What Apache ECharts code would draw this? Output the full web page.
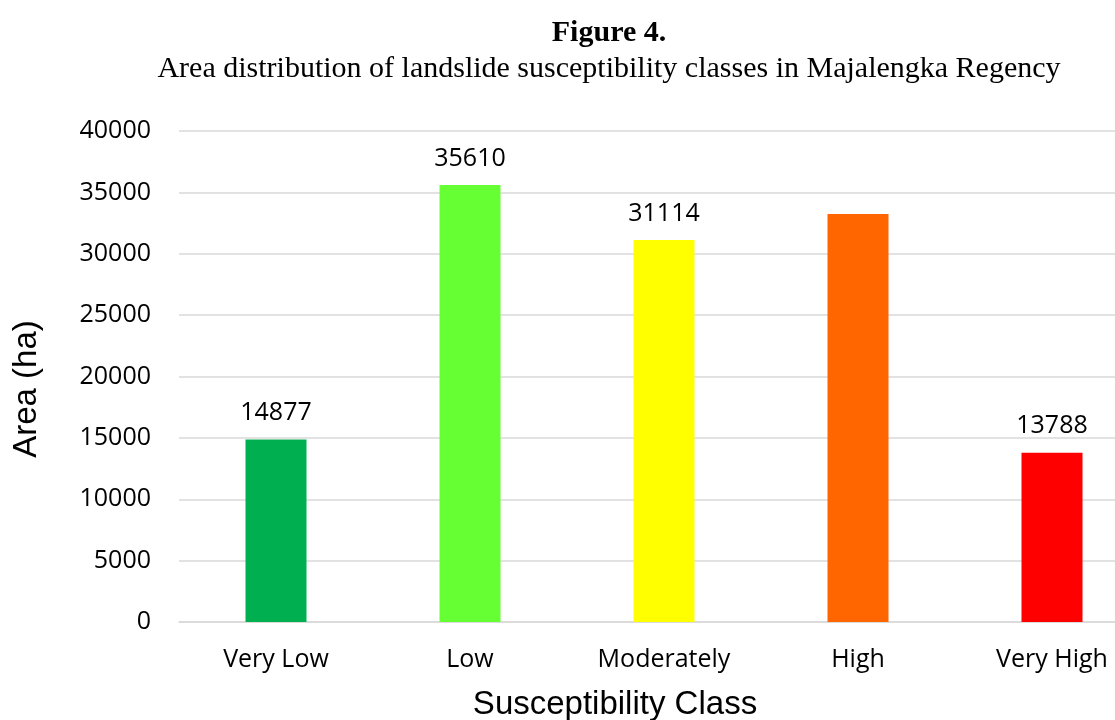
<!DOCTYPE html>
<html><head><meta charset="utf-8">
<script src="https://cdn.jsdelivr.net/npm/echarts@6/dist/echarts.min.js"></script>
<style>html,body{margin:0;padding:0;background:#fff}#c{width:1115px;height:720px}</style>
</head><body><div id="c"></div>
<script>
const categories = ['Very Low', 'Low', 'Moderately', 'High', 'Very High'];
const areaValues = [14877, 35610, 31114, 33240, 13788];
const showLabel = [true, true, true, false, true];
const barColors = ['#00b050', '#66ff33', '#ffff00', '#ff6600', '#ff0000'];
const yTicks = { min: 0, max: 40000, interval: 5000 };

const chart = echarts.init(document.getElementById('c'));
chart.setOption({
  animation: false,
  backgroundColor: '#fff',
  title: [
    { text: 'Figure 4.', left: 604, top: 13, textAlign: 'center',
      textStyle: { fontFamily: 'Liberation Serif', fontWeight: 'bold', fontSize: 30, color: '#000' } },
    { text: 'Area distribution of landslide susceptibility classes in Majalengka Regency', left: 604, top: 49, textAlign: 'center',
      textStyle: { fontFamily: 'Liberation Serif', fontWeight: 'normal', fontSize: 30, color: '#000' } }
  ],
  grid: { left: 179, width: 970, top: 131, height: 491, containLabel: false, outerBoundsMode: 'none' },
  xAxis: {
    type: 'category', data: categories,
    axisLine: { lineStyle: { color: '#d9d9d9', width: 1.5 } },
    axisTick: { show: false },
    axisLabel: { fontFamily: 'Open Sans', fontSize: 25, color: '#000', margin: 25 },
    name: 'Susceptibility Class', nameLocation: 'middle', nameGap: 66,
    nameTextStyle: { fontFamily: 'Liberation Sans', fontSize: 33, color: '#000', padding: [0, 98, 0, 0] }
  },
  yAxis: {
    type: 'value', min: yTicks.min, max: yTicks.max, interval: yTicks.interval,
    axisLine: { show: false }, axisTick: { show: false },
    splitLine: { lineStyle: { color: '#d9d9d9', width: 1.5 } },
    axisLabel: { fontFamily: 'Open Sans', fontSize: 25, color: '#000', margin: 28, formatter: v => String(v) },
    name: 'Area (ha)', nameLocation: 'middle', nameGap: 136,
    nameTextStyle: { fontFamily: 'Liberation Sans', fontSize: 33, color: '#000', padding: [0, 25, 0, 0] }
  },
  series: [{
    type: 'bar', barWidth: 61,
    data: areaValues.map((v, i) => ({
      value: v,
      itemStyle: { color: barColors[i] },
      label: { show: showLabel[i] }
    })),
    label: { position: 'top', distance: 14, fontFamily: 'Open Sans', fontSize: 25, color: '#000' }
  }]
});
</script></body></html>
